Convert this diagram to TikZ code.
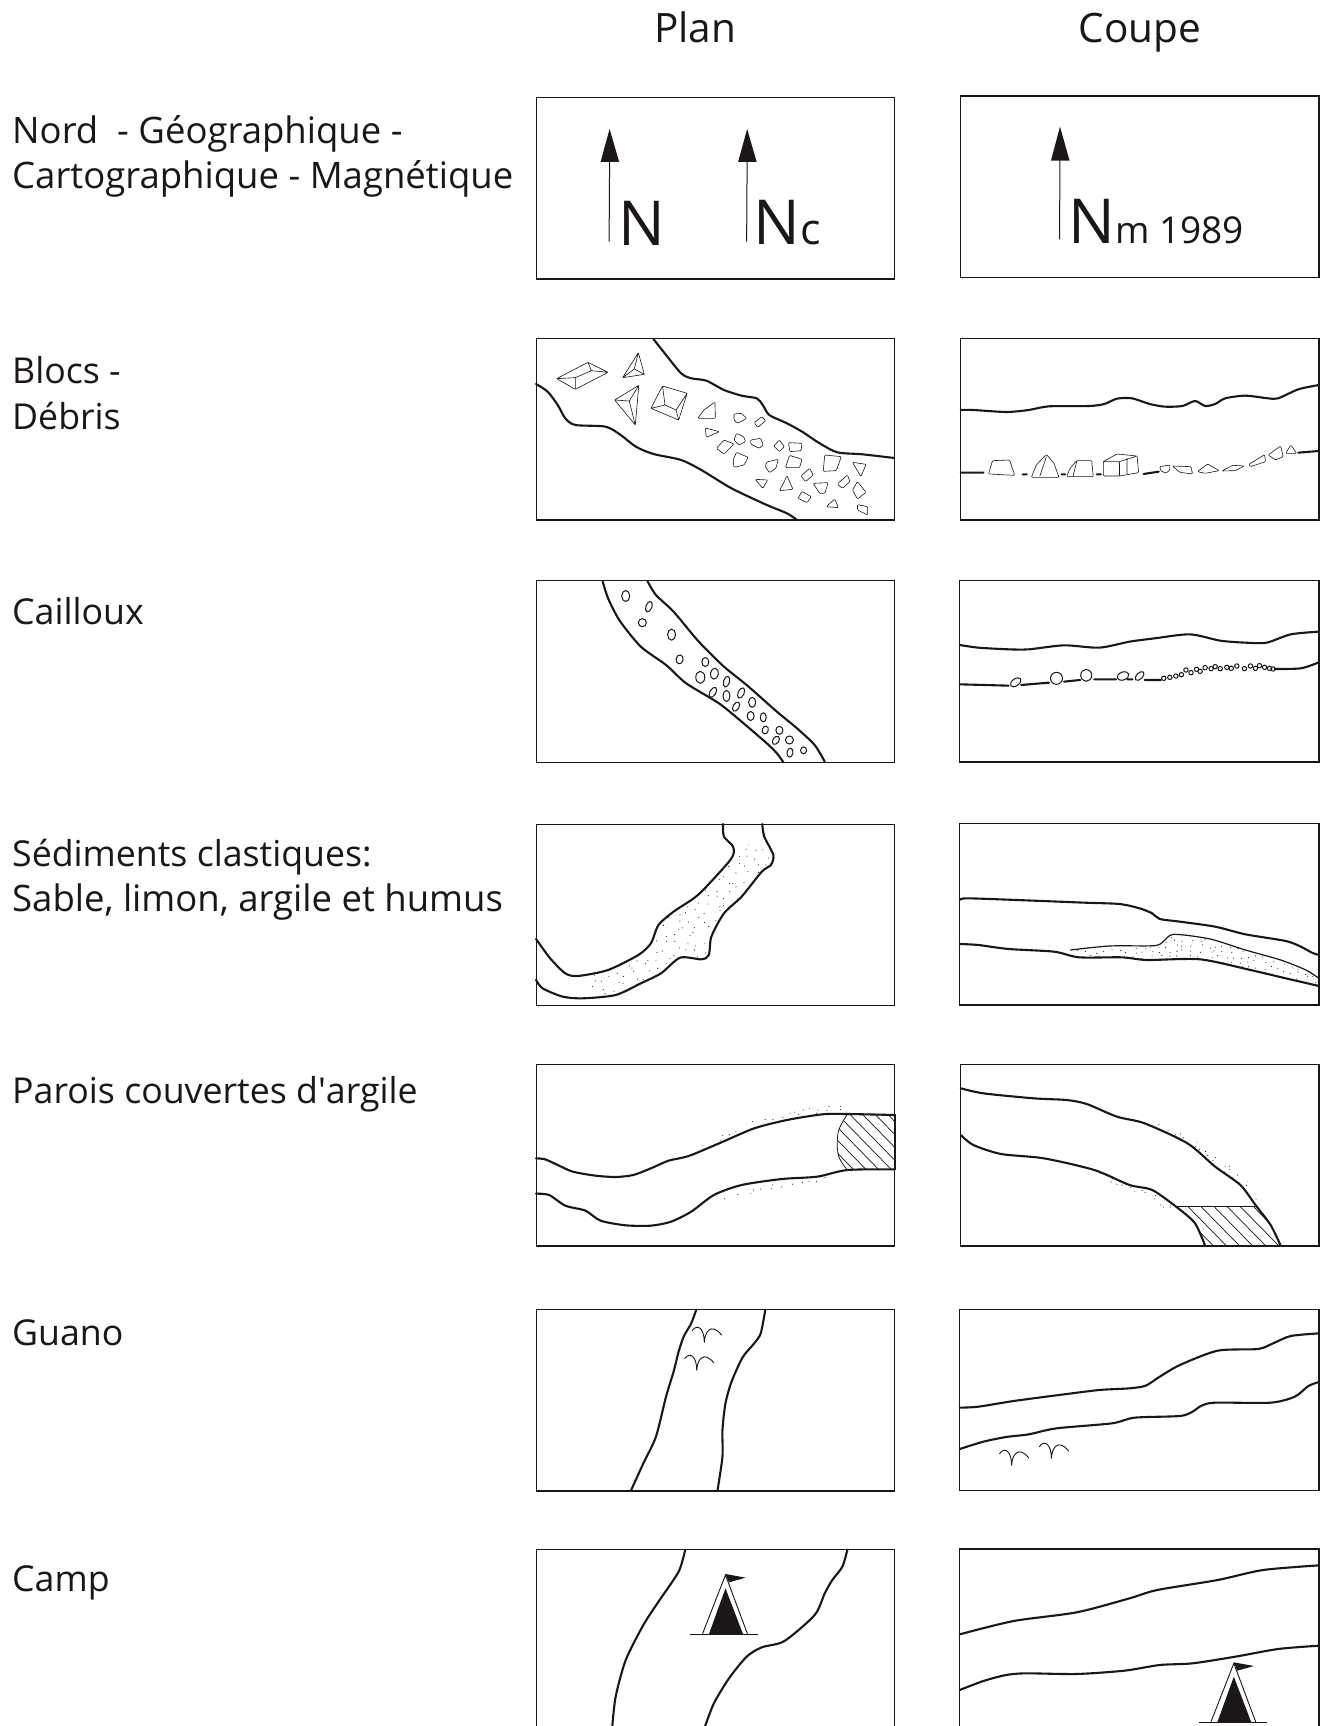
\documentclass[tikz,border=0pt]{standalone}
\usepackage{fontspec}
\setmainfont{Open Sans}
\newfontfamily\plainf{Open Sans}
\definecolor{ink}{HTML}{1A1716}
\tikzset{
  zoomrow/.style={shift={(530,#1)},x=0.5038pt,y=-0.3333pt},
  panel/.style={draw=ink,line width=1.1pt},
  cave/.style={draw=ink,line width=2.1pt,line cap=round,line join=round},
  thincave/.style={draw=ink,line width=1.2pt,line cap=round,line join=round},
  stone/.style={draw=ink,line width=0.6pt,line join=round,rounded corners=1pt},
  peb/.style={draw=ink,line width=1pt},
  hatchline/.style={draw=ink,line width=0.7pt},
  label/.style={anchor=base west,inner sep=0pt,font=\fontsize{36.5}{40}\selectfont,text=ink},
  labelsmall/.style={anchor=base west,inner sep=0pt,font=\fontsize{35.7}{40}\selectfont,text=ink},
  title/.style={anchor=base,inner sep=0pt,font=\fontsize{40.5}{44}\selectfont,text=ink},
  spl/.style={smooth,tension=0.45},
}
\newcommand{\stipplereg}[6]{%
  \begin{scope}
    \clip plot coordinates {#1} -- cycle;
    \pgfmathsetseed{#6}
    \foreach \gi in {#2}{\foreach \gj in {#3}{%
      \pgfmathsetmacro{\gx}{\gi+rand*#4}%
      \pgfmathsetmacro{\gy}{\gj+rand*#5}%
      \fill[ink] (\gx,\gy) circle (0.55pt);}}
  \end{scope}}
\newcommand{\pebble}[5]{\draw[peb] (#1,#2) ellipse[x radius=#3pt,y radius=#4pt,rotate=#5];}
\newcommand{\birdmark}[2]{\draw[draw=ink,line width=0.9pt,line cap=round]
  (#1-24,#2-36) .. controls (#1-14,#2-58) and (#1,#2-44) .. (#1,#2)
  .. controls (#1,#2-32) and (#1+14,#2-62) .. (#1+34,#2-23);}
\newcommand{\tentmark}[2]{%
  \fill[ink] (#1,#2+40) -- (#1-33,#2+178) -- (#1+35,#2+178) -- cycle;
  \draw[draw=ink,line width=0.9pt] (#1-46,#2+178) -- (#1,#2) -- (#1+44,#2+178);
  \draw[draw=ink,line width=1.3pt] (#1-70,#2+178) -- (#1+65,#2+178);
  \fill[ink] (#1,#2-3) -- (#1+40,#2+8) -- (#1+7,#2+22) -- cycle;}
\begin{document}
\begin{tikzpicture}[x=1pt,y=-1pt]
\fill[white] (0,0) rectangle (1320,1726);
\useasboundingbox (0,0) rectangle (1320,1726);

\node[title] (tplan) at (695,43) {Plan};
\node[title] (tcoupe) at (1140,43) {Coupe};
\node[label] (l1a) at (12,143) {Nord\ \ - Géographique -};
\node[label] (l1b) at (12,188) {Cartographique - Magnétique};
\node[labelsmall] (l2a) at (12,383) {Blocs -};
\node[labelsmall] (l2b) at (12,429) {Débris};
\node[labelsmall] (l3) at (12,624) {Cailloux};
\node[labelsmall] (l4a) at (12,866) {Sédiments clastiques:};
\node[label] (l4b) at (12,911) {Sable, limon, argile et humus};
\node[labelsmall] (l5) at (12,1103) {Parois couvertes d{\plainf '}argile};
\node[labelsmall] (l6) at (12,1345) {Guano};
\node[labelsmall] (l7) at (12,1591) {Camp};

% ---- Row 0: north arrows
\begin{scope}[zoomrow=90]
\draw[panel] (12,23) rectangle (724,567);
\draw[panel] (855,18) rectangle (1566,563);
\draw[draw=ink,line width=1pt] (158,210) -- (157,455);
\fill[ink] (158,117) -- (140,216) -- (177,216) -- cycle;
\draw[draw=ink,line width=1pt] (431,210) -- (430,455);
\fill[ink] (431,117) -- (413,216) -- (450,216) -- cycle;
\draw[draw=ink,line width=1pt] (1052,206) -- (1051,448);
\fill[ink] (1052,110) -- (1034,212) -- (1071,212) -- cycle;
\node[anchor=base west,inner sep=0pt,text=ink,font=\fontsize{62}{62}\selectfont] (n1) at (175,466) {N};
\node[anchor=base west,inner sep=0pt,text=ink] (n2) at (443,463) {\fontsize{62}{62}\selectfont N\fontsize{43}{43}\selectfont c};
\node[anchor=base west,inner sep=0pt,text=ink] (n3) at (1068,460) {\fontsize{62}{62}\selectfont N\fontsize{37}{37}\selectfont m 1989};
\end{scope}

% ---- Row 1: blocks
\begin{scope}[zoomrow=330]
\draw[cave] plot[spl] coordinates {(245,27)(270,75)(300,130)(320,145)(350,152)(385,180)(420,197)(450,205)(462,225)(475,255)(510,280)(540,305)(575,340)(610,367)(660,373)(723,384)};
\draw[cave] plot[spl] coordinates {(12,162)(35,185)(55,225)(70,265)(90,285)(150,290)(180,315)(210,350)(245,372)(300,390)(340,420)(400,475)(470,525)(510,550)(530,570)};
\draw[stone] (53,146)--(115,97)--(155,127)--(90,178)--cycle (53,146)--(90,143)--(122,122)--(115,97) (122,122)--(155,127) (90,143)--(90,178);
\draw[stone] (215,68)--(227,133)--(184,143)--cycle (215,68)--(207,117)--(227,133) (207,117)--(184,143);
\draw[stone] (216,166)--(209,285)--(168,210)--cycle (216,166)--(197,213)--(209,285) (197,213)--(168,210);
\draw[stone] (263,168)--(312,190)--(295,270)--(240,235)--cycle (263,168)--(268,225)--(240,235) (268,225)--(290,240)--(295,270) (290,240)--(312,190);
\draw[stone] (367,216)--(368,265)--(333,265)--(345,240)--cycle
 (405,252)--(420,250)--(430,265)--(412,280)--(405,270)--cycle
 (460,260)--(468,272)--(452,292)--(445,278)--cycle
 (348,294)--(376,305)--(350,322)--cycle
 (410,310)--(424,320)--(428,335)--(415,345)--(405,330)--cycle
 (438,330)--(458,325)--(463,345)--(455,355)--(438,342)--cycle
 (385,330)--(405,342)--(385,372)--(370,355)--cycle
 (495,330)--(505,350)--(495,365)--(484,348)--cycle
 (513,338)--(540,340)--(538,362)--(516,365)--cycle
 (410,367)--(433,382)--(425,405)--(405,412)--(403,390)--cycle
 (470,396)--(493,388)--(488,415)--(475,428)--(467,410)--cycle
 (515,376)--(540,388)--(535,413)--(507,413)--cycle
 (585,375)--(618,380)--(608,422)--(582,424)--cycle
 (640,397)--(667,403)--(657,440)--cycle
 (555,415)--(562,435)--(547,455)--(538,438)--cycle
 (510,437)--(522,478)--(495,482)--(503,460)--cycle
 (447,448)--(472,450)--(462,475)--cycle
 (562,460)--(592,458)--(585,490)--(575,490)--cycle
 (630,435)--(635,455)--(620,475)--(610,462)--cycle
 (650,455)--(667,487)--(650,507)--(640,480)--cycle
 (540,484)--(558,500)--(550,518)--(532,505)--cycle
 (605,507)--(612,533)--(588,530)--cycle
 (650,524)--(670,530)--(670,555)--(650,540)--cycle;
% section
\draw[cave] plot[spl] coordinates {(855,240)(880,240)(945,246)(990,240)(1030,229)(1110,228)(1140,222)(1165,206)(1195,205)(1230,222)(1260,230)(1295,228)(1320,213)(1340,228)(1360,222)(1380,205)(1420,197)(1465,205)(1485,205)(1525,178)(1566,165)};
\draw[cave] (855,428)--(900,428) (978,433)--(986,433) (1055,433)--(1062,433) (1125,433)--(1133,433) (1218,432)--(1248,425) (1525,368)--(1566,363);
\draw[stone] (918,392)--(952,390)--(962,436)--(910,432)--cycle
 (1025,373)--(1040,400)--(1050,442)--(995,442)--(1005,405)--cycle (1025,380)--(1012,438)
 (1085,392)--(1115,392)--(1118,440)--(1065,440)--(1072,415)--cycle (1085,395)--(1078,438)
 (1138,395)--(1170,395)--(1170,438)--(1138,438)--cycle (1138,395)--(1165,372)--(1205,378)--(1170,395) (1205,378)--(1208,428)--(1170,438) (1185,385)--(1185,432)
 (1250,410)--(1270,405)--(1270,420)--(1262,430)--(1252,422)--cycle
 (1275,408)--(1312,410)--(1315,432)--(1290,427)--cycle
 (1325,425)--(1345,402)--(1368,422)--(1340,430)--cycle
 (1373,423)--(1395,406)--(1418,408)--(1400,422)--cycle
 (1427,403)--(1458,374)--(1460,395)--(1430,410)--cycle
 (1465,375)--(1490,348)--(1495,380)--(1480,390)--cycle
 (1500,370)--(1510,345)--(1522,370)--cycle;
\draw[panel] (12,26) rectangle (724,570);
\draw[panel] (855,26) rectangle (1566,570);
\end{scope}

% ---- Row 2: pebbles
\begin{scope}[zoomrow=570]
\draw[cave] plot[spl] coordinates {(144,33)(155,85)(178,152)(220,230)(270,285)(310,340)(375,400)(420,455)(470,520)(490,550)(503,577)};
\draw[cave] plot[spl] coordinates {(233,33)(250,75)(285,125)(335,215)(385,290)(430,345)(490,425)(530,475)(565,525)(585,575)};
\foreach \px/\py/\pa/\pb/\pr in {190/78/4/5.5/0,236/110/3/5.5/-20,223/158/4/4/0,281/194/4/5.5/0,297/268/3.5/4.5/-10,348/276/3.5/4.5/0,338/322/4.5/6/0,366/311/4/5.5/-10,390/335/3/5.5/-15,363/367/3/5.5/-30,390/378/3.5/5.5/0,419/369/3/5.5/-25,409/410/3/5/-30,441/397/3.5/5/0,438/438/3.5/4.5/0,463/442/3/4.5/0,467/480/3/4/-15,495/481/3.5/4/0,488/511/3/4.5/-35,515/510/4/4/0,516/548/3/4.5/-10,543/541/3/3.5/0}
  {\pebble{\px}{\py}{\pa}{\pb}{\pr}}
\draw[cave] plot[spl] coordinates {(853,225)(890,233)(950,238)(990,238)(1060,226)(1130,233)(1190,215)(1240,205)(1310,193)(1370,212)(1420,218)(1462,218)(1510,193)(1566,185)};
\draw[cave] (853,343)--(950,347) (975,345)--(1030,338) (1060,335)--(1092,330) (1120,328)--(1163,328) (1186,328)--(1196,328) (1220,330)--(1252,330);
\draw[cave] plot[spl] coordinates {(1478,297)(1530,295)(1566,277)};
\pebble{964}{337}{6}{3.5}{35}\pebble{1045}{325}{6}{6}{0}\pebble{1104}{316}{5.5}{6}{0}\pebble{1177}{318}{6}{4}{20}\pebble{1210}{318}{5.5}{3}{45}
\foreach \px/\py in {1258/325,1270/322,1282/318,1293/314,1302/300,1312/308,1323/298,1330/304,1340/293,1352/296,1360/290,1370/296,1383/292,1392/295,1403/288,1418/296,1430/288,1440/295,1448/287,1458/292,1468/295,1475/297}
  {\pebble{\px}{\py}{2.2}{2.2}{0}}
\draw[panel] (12,32) rectangle (723,577);
\draw[panel] (853,31) rectangle (1566,576);
\end{scope}

% ---- Row 3: clastic sediments
\begin{scope}[zoomrow=815]
\draw[cave] plot[spl] coordinates {(383,27)(385,65)(403,95)(400,130)(350,215)(325,250)(285,290)(255,330)(240,385)(215,420)(155,465)(95,483)(70,475)(40,430)(12,372)};
\draw[cave] plot[spl] coordinates {(461,27)(465,65)(483,120)(478,150)(460,170)(420,245)(385,295)(360,365)(355,420)(340,433)(298,428)(260,475)(220,505)(170,540)(105,550)(65,545)(25,520)(12,495)};
\stipplereg{(420,85)(470,100)(478,145)(385,295)(355,370)(350,430)(295,425)(220,500)(165,540)(120,535)(115,485)(155,470)(225,415)(250,350)(280,295)(340,225)(400,130)}{110,130,...,490}{85,108,...,545}{8}{9}{11}
\draw[cave] plot[spl] coordinates {(853,255)(870,250)(1000,257)(1100,263)(1170,267)(1210,280)(1235,295)(1250,312)(1290,320)(1360,335)(1420,358)(1500,378)(1530,395)(1552,413)(1566,420)};
\draw[cave] plot[spl] coordinates {(853,387)(890,390)(950,402)(1040,410)(1090,427)(1175,427)(1225,435)(1330,433)(1430,465)(1500,490)(1566,513)};
\draw[thincave] plot[spl] coordinates {(1073,405)(1150,393)(1240,392)(1258,378)(1278,358)(1350,372)(1420,405)(1490,435)(1540,465)(1566,490)};
\stipplereg{(1073,407)(1240,392)(1278,360)(1350,373)(1490,437)(1566,492)(1566,510)(1430,463)(1330,433)(1225,433)(1175,427)(1090,425)}{1075,1091,...,1566}{362,378,...,510}{7}{6}{23}
\draw[panel] (12,28) rectangle (724,572);
\draw[panel] (853,25) rectangle (1566,570);
\end{scope}

% ---- Row 4: clay-covered walls
\begin{scope}[zoomrow=1055]
\begin{scope}
\clip plot[smooth,tension=0.6] coordinates {(630,178)(612,230)(612,300)(630,345)} -- (724,345) -- (724,178) -- cycle;
\foreach \hx in {510,535,...,720}{\draw[hatchline] (\hx,178) -- ++(110,170);}
\end{scope}
\draw[draw=ink,line width=0.8pt] plot[smooth,tension=0.6] coordinates {(630,178)(612,230)(612,300)(630,345)};
\draw[cave] plot[spl] coordinates {(12,310)(30,313)(55,330)(85,350)(130,362)(170,366)(205,360)(240,340)(275,317)(315,303)(380,262)(445,220)(510,195)(580,178)(630,177)(724,180)};
\draw[cave] plot[spl] coordinates {(12,416)(38,420)(70,452)(110,467)(140,497)(190,511)(240,512)(280,500)(320,470)(365,420)(420,390)(500,372)(570,365)(630,345)(724,343)};
\draw[cave] (724,180) -- (724,343);
\stipplereg{(322,288)(380,242)(445,196)(510,168)(620,148)(620,170)(510,185)(445,213)(380,255)(322,292)}{322,340,...,620}{150,165,...,285}{7}{7}{5}
\stipplereg{(355,445)(400,412)(500,383)(600,360)(600,372)(500,400)(420,420)(365,445)}{355,373,...,600}{365,378,...,445}{7}{5}{7}
\begin{scope}
\clip plot[smooth,tension=0.45] coordinates {(1285,455)(1320,505)(1340,572)} -- (1490,572) -- (1470,510) -- (1440,455) -- cycle;
\foreach \hx in {1150,1176,...,1490}{\draw[hatchline] (\hx,455) -- ++(78,120);}
\end{scope}
\draw[thincave] (1285,455) -- (1440,455);
\draw[cave] plot[spl] coordinates {(855,100)(900,115)(1000,130)(1065,135)(1105,147)(1165,185)(1220,205)(1305,265)(1360,335)(1410,390)(1440,450)(1470,510)(1490,572)};
\draw[cave] plot[spl] coordinates {(855,240)(880,270)(935,297)(1020,310)(1120,345)(1190,390)(1235,405)(1285,458)(1320,505)(1340,572)};
\stipplereg{(1215,188)(1300,238)(1370,305)(1425,380)(1447,445)(1438,440)(1405,385)(1360,325)(1305,258)(1220,198)}{1215,1231,...,1447}{190,206,...,445}{6}{7}{9}
\stipplereg{(1105,350)(1130,350)(1190,395)(1235,410)(1280,458)(1255,458)(1230,420)(1180,402)}{1105,1120,...,1280}{350,362,...,458}{6}{5}{3}
\draw[panel] (12,29) rectangle (724,573);
\draw[panel] (855,29) rectangle (1566,573);
\end{scope}

% ---- Row 5: guano
\begin{scope}[zoomrow=1300]
\draw[cave] plot[spl] coordinates {(330,29)(320,70)(305,110)(295,155)(285,215)(270,290)(250,410)(225,490)(200,573)};
\draw[cave] plot[spl] coordinates {(467,29)(458,100)(445,130)(422,172)(400,245)(388,310)(382,390)(382,470)(372,573)};
\birdmark{346}{128}\birdmark{331}{212}\birdmark{956}{497}\birdmark{1035}{476}
\draw[cave] plot[spl] coordinates {(853,323)(890,320)(960,303)(1050,285)(1130,270)(1190,265)(1222,257)(1250,230)(1290,195)(1365,152)(1445,147)(1475,130)(1510,108)(1566,100)};
\draw[cave] plot[spl] coordinates {(853,447)(900,425)(945,411)(990,403)(1045,385)(1155,370)(1200,353)(1290,348)(1315,335)(1333,317)(1360,308)(1470,308)(1518,290)(1545,258)(1566,246)};
\draw[panel] (12,29) rectangle (724,573);
\draw[panel] (853,29) rectangle (1566,572);
\end{scope}

% ---- Row 6: camp
\begin{scope}[zoomrow=1540]
\draw[cave] plot[spl] coordinates {(308,29)(295,95)(255,185)(225,255)(190,360)(170,470)(163,565)};
\draw[cave] plot[spl] coordinates {(630,29)(620,80)(600,120)(585,160)(565,225)(505,303)(460,322)(430,350)(395,415)(365,490)(346,565)};
\tentmark{388}{105}
\draw[cave] plot[spl] coordinates {(853,283)(960,243)(1085,217)(1190,175)(1245,150)(1365,120)(1455,90)(1566,76)};
\draw[cave] plot[spl] coordinates {(853,450)(900,423)(945,405)(985,400)(1085,402)(1180,392)(1250,375)(1315,370)(1400,350)(1485,327)(1566,317)};
\tentmark{1397}{370}
\draw[panel] (12,600) -- (12,29) -- (724,29) -- (724,600);
\draw[panel] (853,600) -- (853,27) -- (1566,27) -- (1566,600);
\end{scope}
\end{tikzpicture}
\end{document}
